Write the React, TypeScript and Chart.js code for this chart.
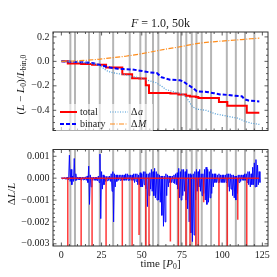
import React, { useEffect, useRef } from 'react';
import { Chart, registerables } from 'chart.js';
Chart.register(...registerables);

// ---------- data ----------
const eventTimes = [5.6, 8.5, 17.2, 23.9, 32.2, 42.5, 49.1, 52.5, 57, 60.3, 72.4, 74.4, 77.7, 81.1, 84, 87.3, 93.1, 102.9, 108.5, 114.2, 120];

const totalT = [0, 4.0, 12.3, 19.1, 27.8, 37.9, 44.0, 48.3, 52.5, 54.5, 67.8, 72.8, 77.5, 80.0, 83.6, 85.2, 98.0, 103.2, 115.3, 123.1];
const totalV = [0, -0.017, -0.022, -0.027, -0.05, -0.105, -0.137, -0.14, -0.196, -0.258, -0.263, -0.27, -0.28, -0.287, -0.292, -0.3, -0.332, -0.362, -0.42, -0.42];

const binaryT = [0, 5, 13.7, 20, 24, 30.3, 35, 38.6, 44, 48.9, 55, 59.3, 62.4, 67.6, 73.8, 76, 78, 82.1, 84.2, 90.4, 95, 98.7, 104, 107, 112.2, 114, 116.3, 123.1];
const binaryV = [0, -0.002, -0.008, -0.015, -0.03, -0.05, -0.06, -0.063, -0.066, -0.076, -0.09, -0.095, -0.13, -0.15, -0.155, -0.165, -0.185, -0.22, -0.245, -0.25, -0.26, -0.27, -0.275, -0.28, -0.285, -0.31, -0.32, -0.327];

const daT = [0, 10, 18, 22, 25, 28, 31, 35, 40, 45, 50, 55, 59, 62, 65, 70, 76, 78.5, 81.5, 84, 90, 96, 104, 110, 114, 118, 123.1];
const daV = [0, -0.005, -0.015, -0.025, -0.045, -0.075, -0.09, -0.1, -0.11, -0.125, -0.14, -0.16, -0.175, -0.2, -0.23, -0.25, -0.27, -0.31, -0.37, -0.39, -0.4, -0.43, -0.45, -0.465, -0.49, -0.505, -0.515];

const dmT = [0, 8, 15, 24, 32, 40, 48, 55, 60, 65, 72, 78, 84, 90, 96, 104, 112, 118, 123.1];
const dmV = [0, 0.003, 0.008, 0.018, 0.03, 0.042, 0.058, 0.075, 0.088, 0.1, 0.115, 0.13, 0.145, 0.155, 0.162, 0.17, 0.178, 0.185, 0.19];

// bottom panel: blue band envelope (units of 1e-4), one pair per integer time 0..123
const blueHi = [0.3, 0.3, 0.3, 0.3, 0.5, 10.5, 4, 1, 9, 2, 0.5, 0.5, 0.5, 0.5, 0.5, 0.6, 1, 5.5, 1.5, 0.5,
  0.5, 0.5, 0.5, 1, 11, 3, 1.5, 1, 0.8, 0.8, 1, 2, 3, 2, 1.5, 1.5, 1.5, 1.5, 1.5, 1.5,
  2, 2, 1.5, 1.5, 1.5, 2, 2, 2, 1.5, 2.5, 2, 3, 3, 2, 2, 2.5, 4, 3, 4.5, 3,
  2, 1.5, 1, 1, 1, 2, 1.5, 1, 1, 1, 1.5, 2, 2.5, 4.5, 3, 4, 4, 3, 4, 2,
  2, 1.5, 2, 3, 4, 3, 4, 2, 2, 4, 5, 4, 3, 4, 2, 2, 2, 1.5, 2, 1.5,
  1.5, 1.5, 1.5, 2, 2, 2, 1.5, 1.5, 1, 1, 1.5, 1.5, 1.5, 1.5, 2, 2, 3, 3, 2, 5,
  7, 8.5, 6, 3];
const blueLo = [-0.3, -0.3, -0.5, -0.5, -0.8, -1.5, -3, -1.5, -1, -1, -0.8, -0.8, -1, -0.8, -0.8, -1, -2, -12, -4, -1,
  -1, -1, -1.2, -2, -18.5, -5, -3, -1.5, -1.2, -1, -1.5, -6, -20, -4, -1.5, -1, -1, -1, -1, -1,
  -1, -1, -1, -1, -1, -2, -1.5, -3, -3, -4, -4, -3, -5, -13, -8, -5, -6, -8, -9, -10,
  -10, -11, -17, -22, -20, -8, -4, -2, -2, -2, -2.5, -3, -5, -9, -10, -8, -6, -10, -14, -20,
  -25, -29, -26, -10, -6, -4, -6, -8, -7, -10, -12, -11, -9, -7, -4, -2, -2, -2, -2, -2,
  -2, -2, -2, -4, -6, -5, -8, -9, -10, -7, -2, -1.5, -1, -1, -1, -2, -3, -4, -3, -3,
  -4, -4, -3, -2];

const spikeT = [4.0, 12.3, 19.1, 27.8, 37.9, 44.0, 48.3, 52.5, 54.5, 67.8, 72.8, 77.5, 80.0, 83.6, 85.2, 88.5, 98.0, 103.2, 109.7, 115.3];
const spikeD = [-0.0035, -0.0035, -0.0035, -0.0035, -0.0035, -0.0035, -0.0026, -0.0035, -0.0035, -0.0029, -0.0035, -0.0035, -0.0035, -0.0035, -0.0035, -0.0011, -0.0035, -0.0035, -0.0019, -0.0035];
const tEnd = 123.1;

const xTicks = [0, 25, 50, 75, 100, 125];
const yTopTicks = [-0.4, -0.2, 0, 0.2];
const yBotTicks = [-0.003, -0.002, -0.001, 0, 0.001];

// ---------- helpers ----------
const SERIF = '"Liberation Serif", "DejaVu Serif", serif';
const TXT = '#1a1a1a';
const FRAME = '#333333';

type Part = [string, string];
function drawMath(ctx: CanvasRenderingContext2D, parts: Part[], x: number, y: number, size: number) {
  const fontFor = (s: string) => {
    const sub = s.includes('s');
    const it = s.includes('i');
    return `${it ? 'italic ' : ''}${sub ? size * 0.7 : size}px ${SERIF}`;
  };
  let total = 0;
  const widths = parts.map(([t, s]) => { ctx.font = fontFor(s); const w = ctx.measureText(t).width; total += w; return w; });
  let cx = x - total / 2;
  ctx.textBaseline = 'middle';
  ctx.textAlign = 'left';
  parts.forEach(([t, s], i) => {
    ctx.font = fontFor(s);
    ctx.fillText(t, cx, s.includes('s') ? y + size * 0.3 : y);
    cx += widths[i];
  });
}

function drawFrameTicks(chart: any, yMajor: number[], yMinorStart: number, yMinorStep: number, yMinorCount: number) {
  const { ctx, chartArea: a, scales } = chart;
  const xs = scales.x, ys = scales.y;
  ctx.save();
  ctx.strokeStyle = FRAME;
  ctx.lineWidth = 0.8;
  ctx.beginPath();
  const seg = (x1: number, y1: number, x2: number, y2: number) => { ctx.moveTo(x1, y1); ctx.lineTo(x2, y2); };
  for (let v = -5; v <= 128; v += 5) {
    const px = xs.getPixelForValue(v);
    if (px < a.left || px > a.right) continue;
    const L = v % 25 === 0 ? 3.5 : 2;
    seg(px, a.bottom, px, a.bottom - L);
    seg(px, a.top, px, a.top + L);
  }
  for (let i = 0; i < yMinorCount; i++) {
    const v = yMinorStart + i * yMinorStep;
    const py = ys.getPixelForValue(v);
    if (py < a.top || py > a.bottom) continue;
    const isMajor = yMajor.some(m => Math.abs(m - v) < yMinorStep * 0.1);
    const L = isMajor ? 3.5 : 2;
    seg(a.left, py, a.left + L, py);
    seg(a.right, py, a.right - L, py);
  }
  ctx.stroke();
  ctx.lineWidth = 1;
  ctx.strokeRect(a.left, a.top, a.right - a.left, a.bottom - a.top);
  ctx.restore();
}

const pts = (ts: number[], vs: number[]) => ts.map((t, i) => ({ x: t, y: vs[i] }));
const grayData = (lo: number, hi: number) => eventTimes.flatMap(t => [{ x: t, y: lo }, { x: t, y: hi }, { x: t, y: null as any }]);
const fmtMinus = (v: number, d: number) => (v < -1e-12 ? '\u2212' : '') + Math.abs(v).toFixed(d);

const X_MIN = -5.2, X_MAX = 128.5;
const TOP_MIN = -0.565, TOP_MAX = 0.24;
const BOT_MIN = -0.0031, BOT_MAX = 0.00131;

function topConfig(): any {
  const plugin = {
    id: 'topDecor',
    afterDraw(chart: any) {
      const ctx = chart.ctx as CanvasRenderingContext2D;
      drawFrameTicks(chart, yTopTicks, -0.55, 0.05, 17);
      ctx.save();
      ctx.fillStyle = TXT;
      drawMath(ctx, [['F', 'i'], [' = 1.0, 50k', 'n']], 160.5, 24, 12);
      ctx.translate(21, 84.5);
      ctx.rotate(-Math.PI / 2);
      drawMath(ctx, [['(', 'n'], ['L', 'i'], [' \u2212 ', 'n'], ['L', 'i'], ['0', 's'], [')/', 'n'], ['L', 'i'], ['bin,0', 's']], 0, 0, 11);
      ctx.restore();
      // legend
      ctx.save();
      ctx.fillStyle = 'rgba(255,255,255,0.6)';
      ctx.fillRect(56, 104, 97, 28);
      const line = (x1: number, x2: number, y: number, color: string, w: number, dash: number[]) => {
        ctx.beginPath(); ctx.strokeStyle = color; ctx.lineWidth = w; ctx.setLineDash(dash);
        ctx.moveTo(x1, y); ctx.lineTo(x2, y); ctx.stroke();
      };
      line(60, 77, 112, '#ff0000', 2, []);
      line(60, 77, 124, '#0000ff', 2, [4, 2]);
      line(110, 128, 112, '#4a9ad6', 1.2, [1, 1.5]);
      line(110, 128, 124, '#ff8c1a', 1.2, [5, 1.5, 1, 1.5]);
      ctx.setLineDash([]);
      ctx.fillStyle = TXT;
      ctx.font = `10px ${SERIF}`;
      ctx.textBaseline = 'middle';
      ctx.textAlign = 'left';
      ctx.fillText('total', 80, 112);
      ctx.fillText('binary', 80, 124);
      ctx.fillText('\u0394', 131, 112);
      ctx.fillText('\u0394', 131, 124);
      const dw = ctx.measureText('\u0394').width;
      ctx.font = `italic 10px ${SERIF}`;
      ctx.fillText('a', 131 + dw + 0.5, 112);
      ctx.fillText('M', 131 + dw + 0.5, 124);
      ctx.restore();
    },
  };
  return {
    type: 'line',
    data: {
      datasets: [
        { data: grayData(-1, 1), borderColor: 'rgba(150,150,150,0.7)', borderWidth: 2, pointRadius: 0, order: 10, spanGaps: false },
        { data: pts(totalT, totalV), borderColor: '#ff0000', borderWidth: 2, pointRadius: 0, stepped: true, order: 4 },
        { data: pts(binaryT, binaryV), borderColor: '#0000ff', borderWidth: 2, borderDash: [4, 2], pointRadius: 0, order: 3 },
        { data: pts(daT, daV), borderColor: '#4a9ad6', borderWidth: 1.2, borderDash: [1, 1.5], pointRadius: 0, order: 2 },
        { data: pts(dmT, dmV), borderColor: '#ff8c1a', borderWidth: 1.2, borderDash: [5, 1.5, 1, 1.5], pointRadius: 0, order: 1 },
      ],
    },
    options: {
      responsive: false,
      animation: false,
      layout: { padding: { top: 32, right: 9, bottom: 3, left: 0 } },
      plugins: { legend: { display: false }, tooltip: { enabled: false } },
      elements: { line: { tension: 0 } },
      scales: {
        x: { type: 'linear', min: X_MIN, max: X_MAX, display: false },
        y: {
          type: 'linear', min: TOP_MIN, max: TOP_MAX,
          afterBuildTicks: (s: any) => { s.ticks = yTopTicks.map(v => ({ value: v })); },
          afterFit: (s: any) => { s.width = 53; },
          grid: { display: false, drawTicks: false },
          border: { display: false },
          ticks: { padding: 3.5, color: TXT, font: { family: SERIF, size: 10 }, callback: (v: number) => fmtMinus(v, 1) },
        },
      },
    },
    plugins: [plugin],
  };
}

function botConfig(): any {
  const blue: { x: number; y: number }[] = [];
  blueHi.forEach((h, i) => { blue.push({ x: i, y: h * 1e-4 }); blue.push({ x: i + 0.5, y: blueLo[i] * 1e-4 }); });
  const red: { x: number; y: number }[] = [{ x: 0, y: 0 }];
  spikeT.forEach((t, i) => { red.push({ x: t, y: 0 }, { x: t, y: spikeD[i] }, { x: t, y: 0 }); });
  red.push({ x: tEnd, y: 0 });
  const plugin = {
    id: 'botDecor',
    afterDraw(chart: any) {
      const ctx = chart.ctx as CanvasRenderingContext2D;
      drawFrameTicks(chart, yBotTicks, -0.003, 0.0002, 23);
      ctx.save();
      ctx.fillStyle = TXT;
      drawMath(ctx, [['time [', 'n'], ['P', 'i'], ['0', 's'], [']', 'n']], 160.5, 124, 11);
      ctx.translate(12, 54);
      ctx.rotate(-Math.PI / 2);
      drawMath(ctx, [['\u0394', 'n'], ['L', 'i'], ['/', 'n'], ['L', 'i']], 0, 0, 11);
      ctx.restore();
    },
  };
  return {
    type: 'line',
    data: {
      datasets: [
        { data: grayData(-1, 1), borderColor: 'rgba(150,150,150,0.7)', borderWidth: 2, pointRadius: 0, order: 10, spanGaps: false },
        { data: blue, borderColor: '#0000ff', borderWidth: 0.9, pointRadius: 0, order: 5 },
        { data: red, borderColor: 'rgba(255,20,20,0.85)', borderWidth: 1.5, pointRadius: 0, order: 1 },
      ],
    },
    options: {
      responsive: false,
      animation: false,
      layout: { padding: { top: 2, right: 9, bottom: 0, left: 0 } },
      plugins: { legend: { display: false }, tooltip: { enabled: false } },
      elements: { line: { tension: 0 } },
      scales: {
        x: {
          type: 'linear', min: X_MIN, max: X_MAX,
          afterBuildTicks: (s: any) => { s.ticks = xTicks.map(v => ({ value: v })); },
          afterFit: (s: any) => { s.height = 31; },
          grid: { display: false, drawTicks: false },
          border: { display: false },
          ticks: { padding: 3, maxRotation: 0, autoSkip: false, color: TXT, font: { family: SERIF, size: 10 }, callback: (v: number) => String(v) },
        },
        y: {
          type: 'linear', min: BOT_MIN, max: BOT_MAX,
          afterBuildTicks: (s: any) => { s.ticks = yBotTicks.map(v => ({ value: v })); },
          afterFit: (s: any) => { s.width = 53; },
          grid: { display: false, drawTicks: false },
          border: { display: false },
          ticks: { padding: 3.5, color: TXT, font: { family: SERIF, size: 10 }, callback: (v: number) => fmtMinus(v, 3) },
        },
      },
    },
    plugins: [plugin],
  };
}

export default function App() {
  const topRef = useRef<HTMLCanvasElement>(null);
  const botRef = useRef<HTMLCanvasElement>(null);
  useEffect(() => {
    const c1 = new Chart(topRef.current as HTMLCanvasElement, topConfig());
    const c2 = new Chart(botRef.current as HTMLCanvasElement, botConfig());
    return () => { c1.destroy(); c2.destroy(); };
  }, []);
  return (
    <div style={{ position: 'absolute', left: 0, top: 0, width: 277, height: 277, background: '#fff' }}>
      <canvas ref={topRef} width={277} height={140} style={{ position: 'absolute', left: 0, top: 0, width: 277, height: 140 }} />
      <canvas ref={botRef} width={277} height={137} style={{ position: 'absolute', left: 0, top: 140, width: 277, height: 137 }} />
    </div>
  );
}
